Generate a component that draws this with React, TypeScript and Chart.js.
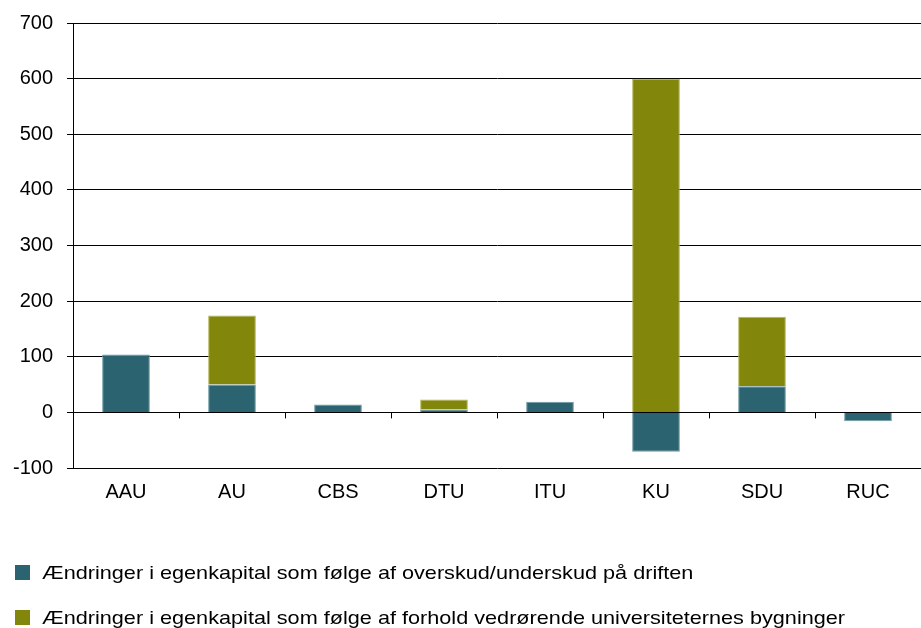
import React, { useEffect, useRef } from "react";
import { Chart, registerables } from "chart.js";

Chart.register(...registerables);

const categories = ["AAU", "AU", "CBS", "DTU", "ITU", "KU", "SDU", "RUC"];
const driftValues = [104, 50, 14, 5, 19, -71, 47, -16];
const bygningValues = [null, 124, null, 18, null, 600, 125, null];
const seriesLabels = [
  "Ændringer i egenkapital som følge af overskud/underskud på driften",
  "Ændringer i egenkapital som følge af forhold vedrørende universiteternes bygninger",
];
const yMin = -100;
const yMax = 700;
const yStep = 100;

const TEAL = "#2B6470";
const OLIVE = "#82860A";
const FONT = "'Liberation Sans', Arial, sans-serif";

const zeroTicksPlugin = {
  id: "zeroTicks",
  afterDatasetsDraw(chart: any) {
    const { ctx, scales } = chart;
    const x = scales.x;
    const y = scales.y;
    const y0 = y.getPixelForValue(0);
    ctx.save();
    ctx.strokeStyle = "#000";
    ctx.lineWidth = 1;
    const n = categories.length;
    for (let i = 1; i < n; i++) {
      const px = Math.round((x.getPixelForValue(i - 1) + x.getPixelForValue(i)) / 2) + 0.5;
      ctx.beginPath();
      ctx.moveTo(px, y0);
      ctx.lineTo(px, y0 + 6);
      ctx.stroke();
    }
    ctx.restore();
  },
};

export default function App() {
  const canvasRef = useRef<HTMLCanvasElement | null>(null);

  useEffect(() => {
    if (!canvasRef.current) return;
    const chart = new Chart(canvasRef.current, {
      type: "bar",
      data: {
        labels: categories,
        datasets: [
          {
            label: seriesLabels[0],
            data: driftValues,
            backgroundColor: TEAL,
            borderColor: "#6f9aa3",
            borderWidth: 1,
            barPercentage: 0.45,
            categoryPercentage: 1,
          },
          {
            label: seriesLabels[1],
            data: bygningValues as any,
            backgroundColor: OLIVE,
            borderColor: "#b3b55a",
            borderWidth: 1,
            barPercentage: 0.45,
            categoryPercentage: 1,
          },
        ],
      },
      options: {
        animation: false,
        responsive: true,
        maintainAspectRatio: false,
        layout: { padding: { top: 23, bottom: 100, left: 0, right: 0 } },
        plugins: {
          legend: { display: false },
          tooltip: { enabled: false },
        },
        scales: {
          x: {
            stacked: true,
            grid: { display: false, drawTicks: false },
            border: { display: false },
            ticks: {
              color: "#000",
              padding: 12,
              font: { family: FONT, size: 20 },
              maxRotation: 0,
            },
            afterFit: (s: any) => {
              s.height = 60;
            },
          },
          y: {
            stacked: true,
            min: yMin,
            max: yMax,
            grid: {
              color: "#000",
              lineWidth: 1,
              tickLength: 6,
              tickColor: "#000",
            },
            border: { display: true, color: "#000", width: 1 },
            ticks: {
              stepSize: yStep,
              color: "#000",
              padding: 14,
              font: { family: FONT, size: 20 },
            },
            afterFit: (s: any) => {
              s.width = 73;
              s.paddingTop = 0;
              s.paddingBottom = 0;
            },
          },
        },
      },
      plugins: [zeroTicksPlugin],
    });
    return () => chart.destroy();
  }, []);

  const legendColors = [TEAL, OLIVE];
  const legendTops = [564, 609];

  return (
    <div
      style={{
        position: "absolute",
        left: 0,
        top: 0,
        width: 921,
        height: 628,
        background: "#fff",
        fontFamily: FONT,
      }}
    >
      <canvas ref={canvasRef} />
      {seriesLabels.map((lbl, i) => (
        <div
          key={i}
          style={{
            position: "absolute",
            left: 15,
            top: legendTops[i],
            display: "flex",
            alignItems: "center",
            height: 16,
            whiteSpace: "nowrap",
          }}
        >
          <span
            style={{
              display: "inline-block",
              width: 15,
              height: 15,
              background: legendColors[i],
              marginRight: 12,
            }}
          />
          <span
            style={{
              fontSize: 19,
              lineHeight: "20px",
              color: "#000",
              display: "inline-block",
              position: "relative",
              top: 1,
              transform: "scaleX(1.14)",
              transformOrigin: "left center",
            }}
          >
            {lbl}
          </span>
        </div>
      ))}
    </div>
  );
}
